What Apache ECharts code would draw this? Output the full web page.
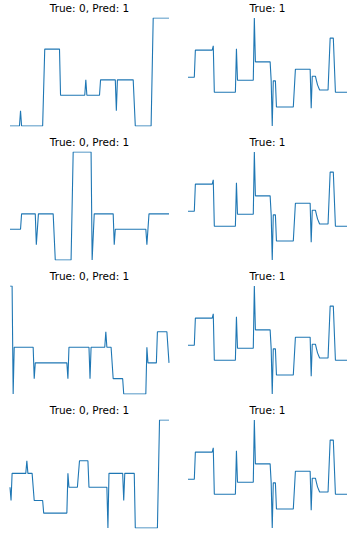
<!DOCTYPE html>
<html><head><meta charset="utf-8">
<script src="https://cdn.jsdelivr.net/npm/echarts@6/dist/echarts.min.js"></script>
<style>html,body{margin:0;padding:0;background:#fff}#c{width:357px;height:536px}</style>
</head><body><div id="c"></div>
<script>
// Titles of the 8 panels (row by row, left then right)
const panelTitles = ['True: 0, Pred: 1', 'True: 1', 'True: 0, Pred: 1', 'True: 1',
                     'True: 0, Pred: 1', 'True: 1', 'True: 0, Pred: 1', 'True: 1'];

// Time-series samples, [time index, normalised value]
const misclassified1 = [[0,0],[9,0],[10,14.2],[11,0],[31,0],[33,71.2],[47,71.2],[48,28.5],[71,28.5],[72,42.7],[73,28.5],[85,28.5],[86,42.7],[100,42.7],[101,14.2],[102,42.7],[117,42.7],[119,0],[134,0],[136,100],[151,100]];
const misclassified2 = [[0,28.5],[10,28.5],[11,42.7],[24,42.7],[25,14.2],[27,42.7],[41,42.7],[43,0],[58,0],[60,100],[77,100],[78,0],[80,42.7],[98,42.7],[99,14.2],[100,28.5],[129,28.5],[130,14.2],[132,42.7],[151,42.7]];
const misclassified3 = [[0,100],[2,100],[3,0],[4,43.3],[22,43.3],[23,14.2],[24,28.8],[54,28.8],[55,14.2],[56,43.3],[75,43.3],[76,14.2],[77,43.3],[90,43.3],[91,57.6],[92,43.3],[96,43.3],[98,14.2],[107,14.2],[108,0],[129,0],[130,43.3],[131,28.8],[139,28.8],[140,57.6],[149,57.6],[151,28.8]];
const misclassified4 = [[0,37.7],[1,25.5],[2,50.6],[15,50.6],[16,62.3],[17,50.6],[21,50.6],[23,25.5],[31,25.5],[32,13.8],[54,13.8],[55,50.6],[56,37.7],[64,37.7],[66,62.3],[74,62.3],[75,37.7],[92,37.7],[93,0],[94,50.6],[107,50.6],[108,25.5],[109,50.6],[118,50.6],[119,0],[140,0],[142,100],[151,100]];
const trueSample = [[0,45.2],[6,45.2],[7,70.3],[23,70.3],[24,74.3],[25,31.3],[45,31.3],[46,71.5],[47,42.4],[62,42.4],[63,100],[64,59.4],[78,59.4],[79,41.8],[80,0],[81,41.8],[83,41.8],[84,17.6],[100,17.6],[102,52.6],[116,52.6],[117,16.4],[118,46.1],[121,46.1],[122,42],[123,38.1],[125,33.4],[133,33.4],[135,81.4],[138,81.4],[140,31.3],[151,31.3]];

const panelData = [misclassified1, trueSample, misclassified2, trueSample,
                   misclassified3, trueSample, misclassified4, trueSample];

const chart = echarts.init(document.getElementById('c'), null, {renderer: 'svg'});
const grids = [], xAxes = [], yAxes = [], series = [], titles = [];
panelData.forEach((d, i) => {
  const row = Math.floor(i / 2), col = i % 2;
  const left = col === 0 ? 10 : 188;
  const top = 18 + 134 * row;
  grids.push({left: left, top: top, width: 159, height: 108});
  xAxes.push({type: 'value', gridIndex: i, min: 0, max: 151, show: false});
  yAxes.push({type: 'value', gridIndex: i, min: 0, max: 100, show: false});
  series.push({type: 'line', xAxisIndex: i, yAxisIndex: i, data: d, showSymbol: false,
    symbol: 'none', lineStyle: {color: '#1f77b4', width: 1.1}, animation: false});
  titles.push({text: panelTitles[i], left: left + 79.5, top: 2.5 + 134 * row, textAlign: 'center', padding: 0,
    textStyle: {fontFamily: 'DejaVu Sans', fontSize: 10.5, fontWeight: 'normal', color: '#000'}});
});
chart.setOption({animation: false, backgroundColor: '#fff', title: titles, grid: grids,
  xAxis: xAxes, yAxis: yAxes, series: series});
</script></body></html>
